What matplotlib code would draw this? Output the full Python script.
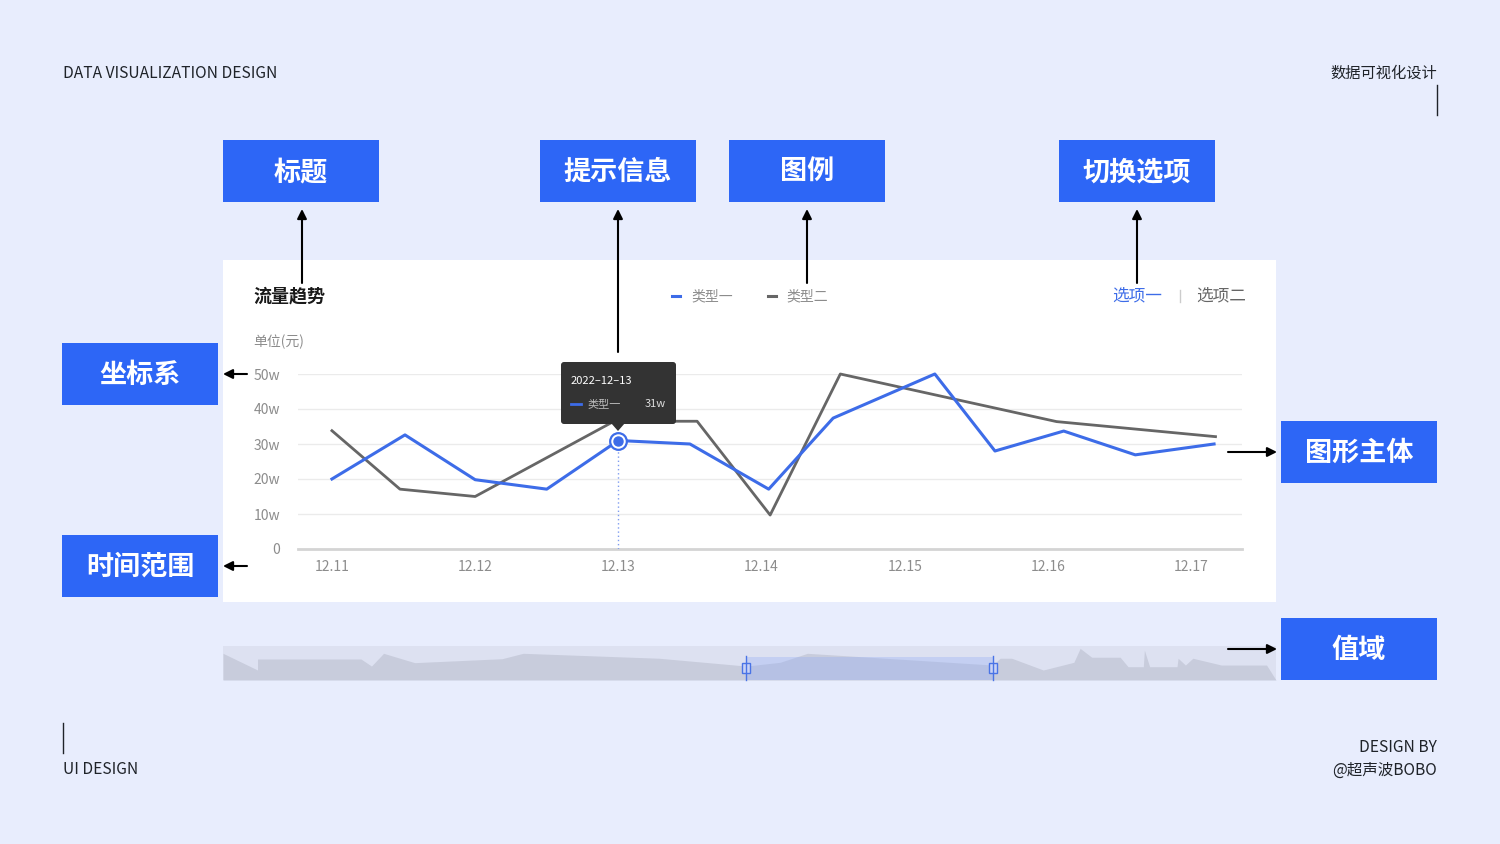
import numpy as np
import matplotlib.pyplot as plt
from matplotlib.patches import Rectangle, FancyBboxPatch, Polygon

plt.rcParams['font.family'] = ['Noto Sans CJK SC', 'DejaVu Sans']

# ---- data ----
dates = ['12.11', '12.12', '12.13', '12.14', '12.15', '12.16', '12.17']
y_ticks = [0, 10, 20, 30, 40, 50]
y_labels = ['0', '10w', '20w', '30w', '40w', '50w']

# x is measured in days after 12.11
x_type1 = [0, 0.51, 1.0, 1.5, 2.0, 2.5, 3.05, 3.5, 4.21, 4.63, 5.11, 5.61, 6.16]
v_type1 = [20, 32.6, 19.8, 17.1, 31, 30, 17.1, 37.4, 50, 28, 33.7, 26.9, 30]
x_type2 = [0, 0.475, 1.0, 1.97, 2.55, 3.06, 3.55, 5.06, 6.17]
v_type2 = [33.8, 17.1, 15, 36.5, 36.5, 9.7, 50, 36.4, 32.1]

tip_index = 4
tip_date = '2022–12–13'
tip_value = '31w'

# brush (data zoom) overview shape, x in % of track, height in fraction
brush_x = [0, 3.28, 3.28, 13.1, 14.1, 15.25, 18.2, 26.5, 28.5, 41.4, 49.7, 52.9,
           55.5, 73.1, 73.8, 74.9, 77.9, 80.8, 81.4, 82.5, 85.2, 85.95, 87.4,
           87.5, 88.0, 90.6, 90.7, 91.4, 92.1, 94.8, 99.1, 100]
brush_h = [0.785, 0.294, 0.618, 0.618, 0.41, 0.785, 0.51, 0.626, 0.785, 0.64, 0.41, 0.52,
           0.785, 0.44, 0.64, 0.64, 0.294, 0.52, 0.93, 0.67, 0.67, 0.39, 0.39,
           0.88, 0.39, 0.39, 0.64, 0.44, 0.64, 0.44, 0.44, 0.0]
brush_range = [49.7, 73.1]

# ---- style ----
BG = '#E8EDFD'
BOX = '#2D66F6'
LINE1 = '#3D6CE8'
LINE2 = '#666666'
DARK = '#1F2329'
GRAY = '#8C8C8C'

W, H = 1500, 844
fig = plt.figure(figsize=(15, 8.44), dpi=100)
fig.patch.set_facecolor(BG)


def px_axes(x0, y0, x1, y1, z):
    return fig.add_axes([x0 / W, 1 - y1 / H, (x1 - x0) / W, (y1 - y0) / H], zorder=z)


bg = fig.add_axes([0, 0, 1, 1], zorder=0)
bg.set_xlim(0, W)
bg.set_ylim(H, 0)
bg.axis('off')

# corner texts
bg.text(63, 73, 'DATA VISUALIZATION DESIGN', fontsize=11.2, color=DARK, va='center')
bg.text(1437, 73, '数据可视化设计', fontsize=11, color=DARK, va='center', ha='right')
bg.plot([1437, 1437], [85, 115], color=DARK, lw=1)
bg.plot([63, 63], [723, 753], color=DARK, lw=1)
bg.text(63, 770, 'UI DESIGN', fontsize=11.2, color=DARK, va='center')
bg.text(1437, 748, 'DESIGN BY', fontsize=11.2, color=DARK, va='center', ha='right')
bg.text(1437, 770, '@超声波BOBO', fontsize=11.2, color=DARK, va='center', ha='right')

# white chart panel
bg.add_patch(Rectangle((223, 260), 1053, 342, fc='white', ec='none'))

# blue label boxes
boxes = [('标题', 223, 140), ('提示信息', 540, 140), ('图例', 729, 140), ('切换选项', 1059, 140),
         ('坐标系', 62, 343), ('时间范围', 62, 535), ('图形主体', 1281, 421), ('值域', 1281, 618)]
for label, bx, by in boxes:
    bg.add_patch(Rectangle((bx, by), 156, 62, fc=BOX, ec='none'))
    bg.text(bx + 78, by + 32, label, color='white', fontsize=19.5, fontweight='bold',
            ha='center', va='center')

# chart header
bg.text(253, 296, '流量趋势', fontsize=13, fontweight='bold', color='#1A1A1A', va='center')
bg.plot([672, 680], [296, 296], color=LINE1, lw=2.2)
bg.text(691, 296, '类型一', fontsize=10, color=GRAY, va='center')
bg.plot([768, 776], [296, 296], color=LINE2, lw=2.2)
bg.text(786, 296, '类型二', fontsize=10, color=GRAY, va='center')
bg.text(1112, 296, '选项一', fontsize=12, color=LINE1, va='center')
bg.plot([1180, 1180], [290, 302], color='#CCCCCC', lw=1)
bg.text(1196, 296, '选项二', fontsize=12, color='#666666', va='center')
bg.text(253, 342, '单位(元)', fontsize=10, color=GRAY, va='center')

# ---- main line chart ----
ax = px_axes(298, 374, 1242, 549, 1)
ax.patch.set_alpha(0)
ax.set_xlim(-0.237, 6.355)
ax.set_ylim(0, 50)
for s in ax.spines.values():
    s.set_visible(False)
for t in y_ticks[1:]:
    ax.axhline(t, color='#EBEBEB', lw=1, zorder=0)
ax.axhline(0, color='#D4D4D4', lw=2, zorder=0, clip_on=False)
ax.set_yticks(y_ticks, y_labels)
ax.set_xticks(range(len(dates)), dates)
ax.tick_params(length=0, labelsize=10, labelcolor=GRAY)
ax.tick_params(axis='y', pad=13)
ax.tick_params(axis='x', pad=8)

ax.plot(x_type2, v_type2, color=LINE2, lw=2, clip_on=False, zorder=2)
ax.plot(x_type1, v_type1, color=LINE1, lw=2.2, clip_on=False, zorder=3)

tx, ty = x_type1[tip_index], v_type1[tip_index]
ax.vlines(tx, 0, ty, colors='#7F9CF0', linestyles=(0, (1, 2)), lw=1, zorder=2)
ax.plot([tx], [ty], 'o', ms=12, mfc='white', mec=LINE1, mew=1.6, clip_on=False, zorder=4)
ax.plot([tx], [ty], 'o', ms=6.5, color=LINE1, clip_on=False, zorder=5)

# ---- data zoom slider ----
sl = px_axes(223, 646, 1276, 680, 1)
sl.set_xlim(0, 100)
sl.set_ylim(0, 1)
sl.set_facecolor('#DDE1F1')
for s in sl.spines.values():
    s.set_visible(False)
sl.set_xticks([])
sl.set_yticks([])
sl.fill_between(brush_x, 0, brush_h, color='#C8CCDC', lw=0)
sl.axvspan(brush_range[0], brush_range[1], ymax=0.685, color='#96AFF5', alpha=0.35, lw=0)
for bx in brush_range:
    sl.plot([bx, bx], [0, 0.71], color='#4A74E6', lw=1, clip_on=False)
    sl.add_patch(Rectangle((bx - 0.38, 0.21), 0.76, 0.29, fc='#C9D3F5', ec='#4A74E6', lw=1))

# ---- overlay: tooltip and pointer arrows ----
top = fig.add_axes([0, 0, 1, 1], zorder=2)
top.set_xlim(0, W)
top.set_ylim(H, 0)
top.axis('off')
top.patch.set_alpha(0)
top.add_patch(FancyBboxPatch((561, 362), 115, 62, boxstyle='round,pad=0,rounding_size=3',
                             fc='#333333', ec='none'))
top.add_patch(Polygon([(611, 423), (625, 423), (618, 431)], closed=True, fc='#333333', ec='none'))
top.text(571, 381, tip_date, fontsize=8, color='white', va='center')
top.plot([571, 581], [404, 404], color=LINE1, lw=2)
top.text(587, 404, '类型一', fontsize=8, color='#BBBBBB', va='center')
top.text(666, 404, tip_value, fontsize=8, color='#DDDDDD', va='center', ha='right')

arrows = [((302, 283), (302, 209)), ((618, 352), (618, 209)), ((807, 283), (807, 209)),
          ((1137, 283), (1137, 209)), ((247, 374), (223, 374)), ((247, 566), (223, 566)),
          ((1228, 452), (1277, 452)), ((1228, 649), (1277, 649))]
for start, end in arrows:
    top.annotate('', xy=end, xytext=start,
                 arrowprops=dict(arrowstyle='-|>', color='black', lw=1.5,
                                 mutation_scale=14, shrinkA=0, shrinkB=0))

fig.savefig('out.png', dpi=100, facecolor=BG)
